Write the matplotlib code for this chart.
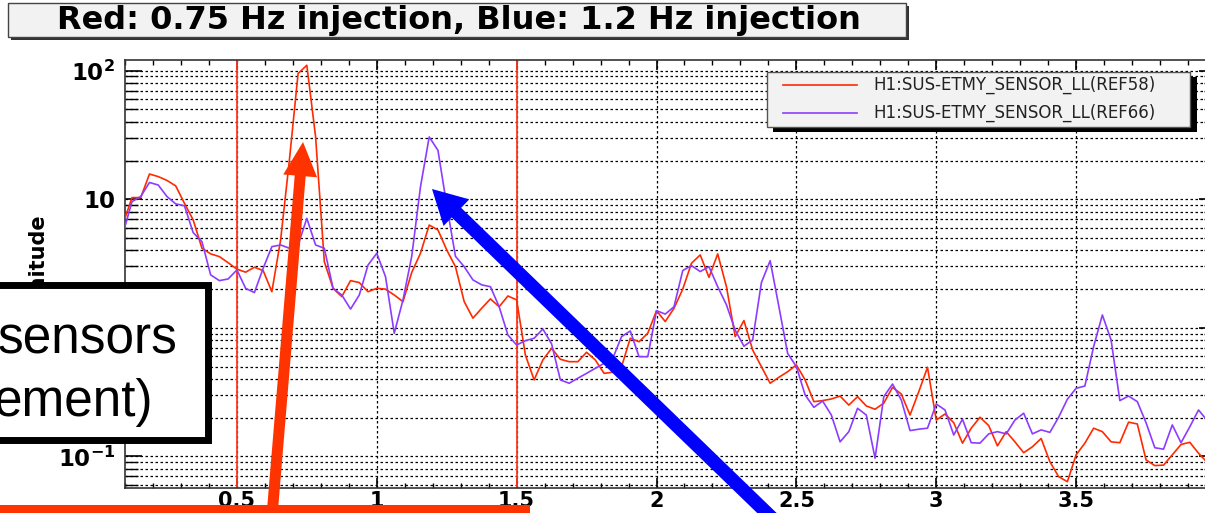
import numpy as np
import matplotlib
matplotlib.use('Agg')
import matplotlib.pyplot as plt
from matplotlib.patches import Rectangle, FancyArrow
from matplotlib.lines import Line2D
from matplotlib.ticker import MultipleLocator, LogLocator, FixedLocator, FixedFormatter, FuncFormatter, NullFormatter

# spectrum bins: 1/32 Hz resolution, first bin at 3/32 Hz
bin_width = 1 / 32
first_bin = 3

# red trace: 0.75 Hz injection (REF58)
red_mag = [6.5, 10.3, 10.3, 15.7, 15.0, 14.0, 12.7, 9.3, 6.9, 4.16,
           3.76, 3.58, 3.21, 2.86, 2.71, 2.96, 2.79, 1.91, 4.82, 20.0,
           95.0, 110.0, 30.7, 3.27, 2.03, 1.75, 2.33, 2.25, 1.91, 2.03,
           2.0, 1.80, 1.60, 2.7, 3.8, 6.3, 5.77, 4.04, 2.99, 1.60,
           1.19, 1.42, 1.68, 1.46, 1.77, 1.65, 0.615, 0.394, 0.563, 0.694,
           0.57, 0.546, 0.546, 0.646, 0.563, 0.443, 0.452, 0.499, 0.83, 0.78,
           0.908, 1.36, 1.12, 1.42, 2.0, 3.18, 3.69, 2.47, 3.76, 2.09,
           0.855, 1.14, 0.673, 0.499, 0.371, 0.413, 0.456, 0.515, 0.394, 0.267,
           0.272, 0.28, 0.295, 0.251, 0.292, 0.247, 0.233, 0.26, 0.345, 0.306,
           0.21, 0.319, 0.494, 0.192, 0.214, 0.183, 0.127, 0.166, 0.202, 0.174,
           0.121, 0.156, 0.13, 0.107, 0.119, 0.138, 0.091, 0.0697, 0.0637, 0.103,
           0.127, 0.166, 0.156, 0.13, 0.128, 0.185, 0.179, 0.094, 0.085, 0.0857,
           0.103, 0.124, 0.129, 0.106, 0.09, 0.085]

# blue trace: 1.2 Hz injection (REF66)
blue_mag = [5.5, 9.58, 10.5, 13.5, 12.9, 10.5, 9.2, 8.9, 5.5, 4.68,
            2.58, 2.33, 2.4, 2.82, 2.03, 1.88, 2.9, 4.28, 4.41, 4.16,
            4.41, 7.1, 4.41, 4.16, 2.03, 1.80, 1.40, 1.8, 3.08, 3.8,
            2.5, 0.908, 1.65, 3.6, 12.5, 30.5, 24.0, 9.0, 3.6, 2.99,
            2.36, 2.16, 2.09, 1.46, 0.88, 0.736, 0.795, 0.83, 0.98, 0.75,
            0.394, 0.371, 0.406, 0.443, 0.485, 0.53, 0.58, 0.855, 0.946, 0.597,
            0.597, 1.36, 1.28, 1.46, 2.79, 3.05, 2.74, 2.99, 2.09, 1.51,
            0.96, 0.72, 0.805, 2.25, 3.33, 1.46, 0.634, 0.499, 0.301, 0.241,
            0.27, 0.21, 0.13, 0.156, 0.237, 0.21, 0.097, 0.292, 0.366, 0.275,
            0.159, 0.163, 0.166, 0.256, 0.23, 0.147, 0.195, 0.128, 0.127, 0.15,
            0.156, 0.15, 0.192, 0.217, 0.15, 0.161, 0.154, 0.202, 0.279, 0.339,
            0.353, 0.714, 1.26, 0.805, 0.272, 0.295, 0.267, 0.183, 0.117, 0.114,
            0.176, 0.128, 0.17, 0.23, 0.19, 0.17]

labels = ['H1:SUS-ETMY_SENSOR_LL(REF58)', 'H1:SUS-ETMY_SENSOR_LL(REF66)']
injection_lines = [0.5, 1.5]
xtick_vals = [0.5, 1, 1.5, 2, 2.5, 3, 3.5]
ytick_vals = [0.1, 1, 10, 100]
ytick_text = [r'$\mathbf{10^{-1}}$', '1', '10', r'$\mathbf{10^{2}}$']
title = 'Red: 0.75 Hz injection, Blue: 1.2 Hz injection'

RED = '#ff2a00'
BLUE = '#8c3cff'

freqs = (first_bin + np.arange(len(red_mag))) * bin_width

W, H = 1205, 513
fig = plt.figure(figsize=(W / 100, H / 100), dpi=100)
fig.set_facecolor('white')

# main plot (right part runs past the cropped edge, up to 4 Hz)
ax = fig.add_axes([125 / W, 25 / H, (1216 - 125) / W, (488 - 59.5) / H])
ax.set_yscale('log')
ax.set_xlim(0.1, 4.0)
ax.set_ylim(0.0569, 122)

for x in injection_lines:
    ax.axvline(x, color='#ff3a20', lw=1.3, zorder=2)
ax.plot(freqs, red_mag, color=RED, lw=1.2, zorder=3)
ax.plot(freqs, blue_mag, color=BLUE, lw=1.2, zorder=3)

ax.xaxis.set_major_locator(MultipleLocator(0.5))
ax.xaxis.set_minor_locator(MultipleLocator(0.1))
ax.xaxis.set_major_formatter(
    FuncFormatter(lambda v, p: '%g' % v if min(abs(v - t) for t in xtick_vals) < 1e-6 else ''))
ax.yaxis.set_major_locator(FixedLocator(ytick_vals))
ax.yaxis.set_major_formatter(FixedFormatter(ytick_text))
ax.yaxis.set_minor_locator(LogLocator(base=10, subs=np.arange(2, 10)))
ax.yaxis.set_minor_formatter(NullFormatter())

ax.tick_params(axis='x', which='both', direction='in', top=True, bottom=True)
ax.tick_params(axis='x', which='major', length=7.2, width=1.2, pad=2.5,
               labelsize=15)
ax.tick_params(axis='x', which='minor', length=3.6, width=1)
ax.tick_params(axis='y', which='both', direction='in', left=True, right=True)
ax.tick_params(axis='y', which='major', length=12, width=1.2, pad=7,
               labelsize=16.5)
ax.tick_params(axis='y', which='minor', length=9, width=1)
for lab in ax.get_xticklabels() + ax.get_yticklabels():
    lab.set_fontweight('bold')

ax.grid(True, which='major', axis='x', color='black', ls=(0, (2, 2)), lw=0.9)
ax.grid(True, which='both', axis='y', color='black', ls=(0, (2, 2)), lw=0.9)
for s in ax.spines.values():
    s.set_color('#333333')
    s.set_linewidth(1.2)

# overlay in pixel coordinates for the slide decorations
ov = fig.add_axes([0, 0, 1, 1], zorder=10)
ov.set_xlim(0, W)
ov.set_ylim(H, 0)
ov.axis('off')
ov.patch.set_alpha(0)

# y label, mostly hidden behind the text box
ov.text(37, 213, 'Magnitude', rotation=90, ha='center', va='top',
        fontsize=15, fontweight='bold', zorder=1)

# title box with shadow
ov.add_patch(Rectangle((11, 6), 898, 34, facecolor='#333333', lw=0, zorder=2))
ov.add_patch(Rectangle((8, 3), 898, 34, facecolor='#f2f2f2',
                       edgecolor='#444444', lw=1, zorder=3))
ov.text(459, 20.5, title, ha='center', va='center', fontsize=23,
        fontweight='bold', color='black', zorder=4)

# legend box with shadow
ov.add_patch(Rectangle((773, 77), 424, 55, facecolor='black', lw=0, zorder=2))
ov.add_patch(Rectangle((767, 72), 423, 55, facecolor='#f2f2f2',
                       edgecolor='#555555', lw=1, zorder=3))
for yy, col, lab in zip([85, 113], [RED, BLUE], labels):
    ov.add_line(Line2D([783, 857], [yy, yy], color=col, lw=1.2, zorder=4))
    ov.text(873, yy, lab, ha='left', va='center', fontsize=12,
            color='#222222', zorder=4)

# white callout box, cut at the left edge of the slide
ov.add_patch(Rectangle((-20, 284.5), 227.5, 155, facecolor='white',
                       edgecolor='black', lw=5, zorder=5, clip_on=False))
ov.text(177, 353, 'sensors', ha='right', va='baseline', fontsize=37,
        family='Liberation Sans', zorder=6)
ov.text(153, 416, 'ement)', ha='right', va='baseline', fontsize=37,
        family='Liberation Sans', zorder=6)

# arrows
ov.add_patch(FancyArrow(270, 540, 33, -398, width=11, head_width=34,
                        head_length=34, length_includes_head=True,
                        color='#ff3300', lw=0, zorder=7))
ov.add_patch(Rectangle((-5, 505), 535, 20, facecolor='#ff3300', lw=0,
                       zorder=7))
ov.add_patch(FancyArrow(800, 545, -368, -356, width=13.5, head_width=37,
                        head_length=34, length_includes_head=True,
                        color='#0000ff', lw=0, zorder=7))

fig.savefig('out.png', dpi=100)
